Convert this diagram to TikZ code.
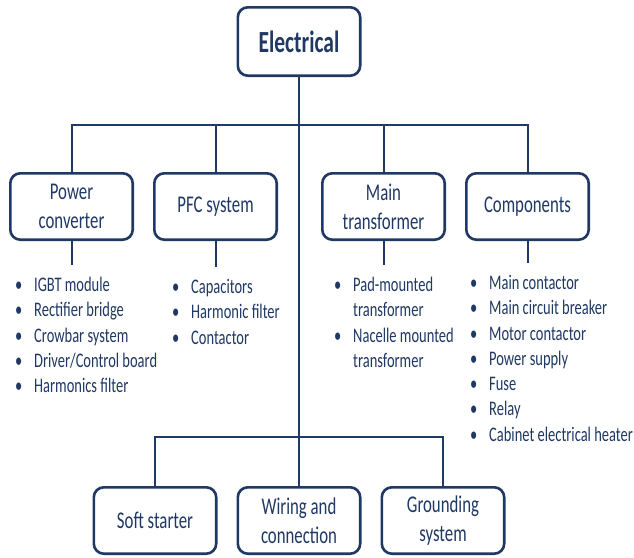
\documentclass[tikz,border=0pt]{standalone}
\usepackage{fontspec}
\setmainfont{Carlito}[FakeStretch=0.7]
\usetikzlibrary{positioning}
\definecolor{navy}{HTML}{1F3864}
\newcommand{\bul}{\makebox[19pt][l]{\textbullet}}
\newcommand{\ind}{\hspace*{19pt}}
\begin{document}
\begin{tikzpicture}[x=1pt,y=-1pt,node distance=19pt,
  box/.style={draw=navy,line width=2.6pt,rounded corners=10pt,text=navy,minimum width=122.4pt,minimum height=66.4pt,align=center,font=\fontsize{24}{29}\selectfont},
  items/.style={text=navy,align=left,anchor=north west,inner sep=0pt,font=\fontsize{20.7}{25.3}\selectfont},
  wire/.style={draw=navy,line width=2pt}]
\useasboundingbox (0,0) rectangle (634,557);
\node[box,minimum height=68.4pt,font=\fontsize{30.7}{34}\selectfont\bfseries] (n0) at (299,41.5) {Electrical};
\node[box] (n1) at (71.5,206.5) {Power\\converter};
\node[box,right=of n1] (n2) {PFC system};
\node[box,right=43pt of n2] (n3) {Main\\transformer};
\node[box,right=of n3] (n4) {Components};
\node[box] (n6) at (299,520.5) {Wiring and\\connection};
\node[box,left=of n6] (n5) {Soft starter};
\node[box,right=of n6] (n7) {Grounding\\system};
% bullet lists
\node[items] (l1) at (15,277) {\bul IGBT module\\\bul Rectifier bridge\\\bul Crowbar system\\\bul Driver/Control board\\\bul Harmonics filter};
\node[items] (l2) at (172,279) {\bul Capacitors\\\bul Harmonic filter\\\bul Contactor};
\node[items] (l3) at (334,277) {\bul Pad-mounted\\\ind transformer\\\bul Nacelle mounted\\\ind transformer};
\node[items] (l4) at (470,275) {\bul Main contactor\\\bul Main circuit breaker\\\bul Motor contactor\\\bul Power supply\\\bul Fuse\\\bul Relay\\\bul Cabinet electrical heater};
\coordinate (b1) at (299,125);
\coordinate (b2) at (299,437);
\draw[wire] (n0) -- (n6);
\draw[wire] (n1.north) |- (b1) -| (n4.north);
\draw[wire] (n2.north) -- (n2.north |- b1);
\draw[wire] (n3.north) -- (n3.north |- b1);
\draw[wire] (n5.north) |- (b2) -| (n7.north);
\foreach \i in {1,2,3,4}
  \draw[wire,shorten >=12pt] (n\i.south) -- (n\i.south |- l\i.north);
\end{tikzpicture}
\end{document}
